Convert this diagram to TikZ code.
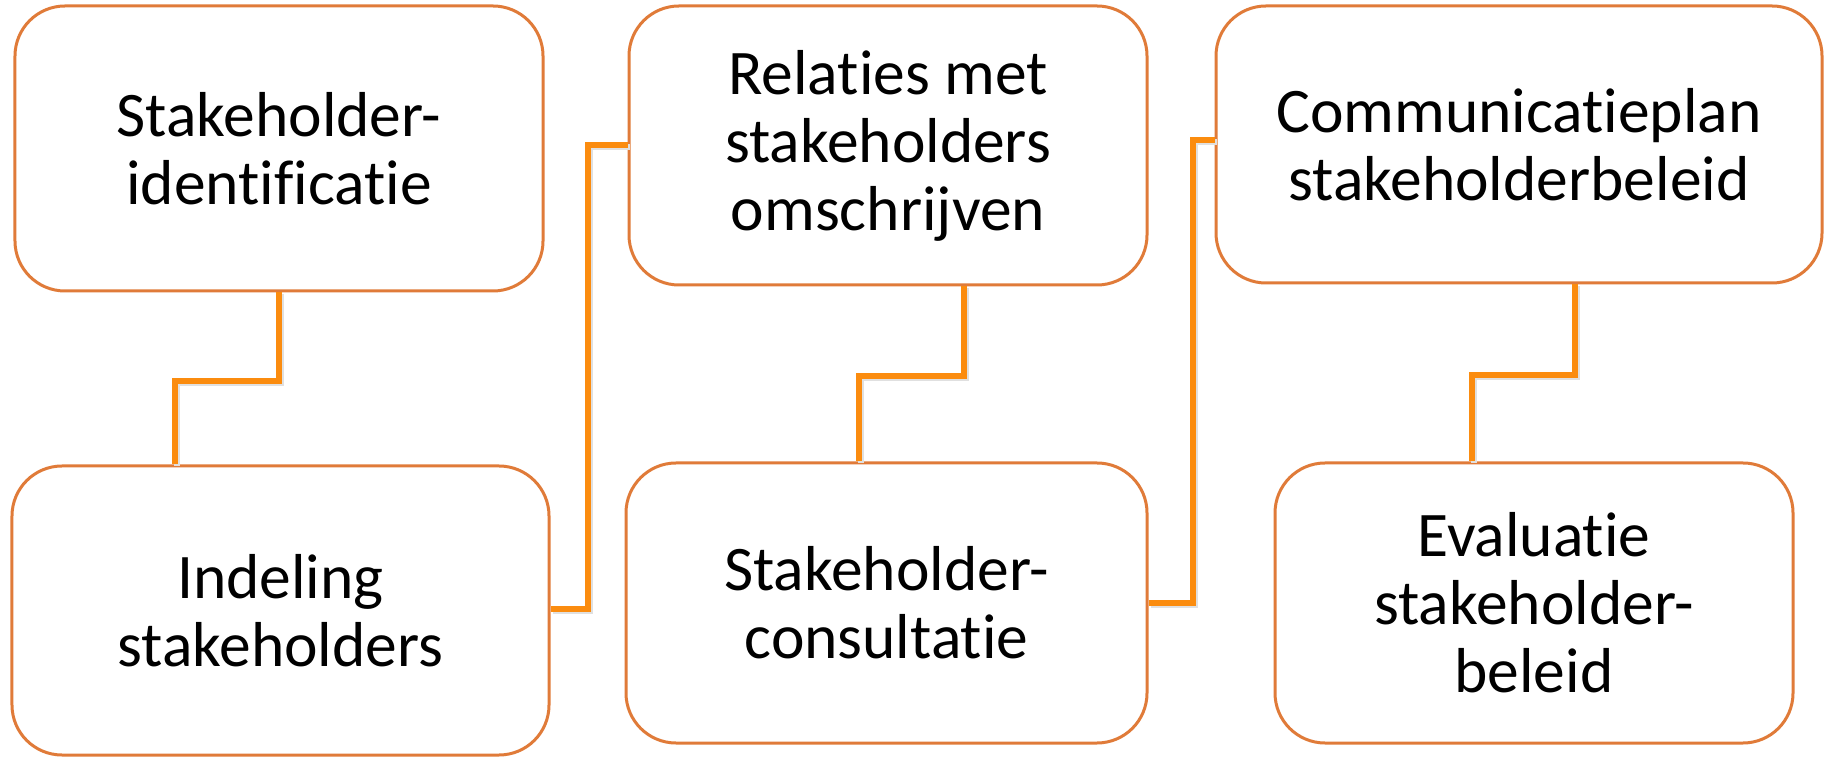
\documentclass[tikz,border=0pt]{standalone}
\usepackage{fontspec}
\setmainfont{Carlito}[Ligatures={NoCommon}]
\definecolor{boxline}{HTML}{E07B39}
\definecolor{connline}{HTML}{FB8C0F}
\begin{document}
\begin{tikzpicture}[x=0.4pt,y=-0.4pt,
  stepbox/.style={draw=boxline, line width=1.2pt, rounded corners=20pt, fill=white,
    rectangle, inner sep=0pt, align=center, font=\fontsize{25.4}{27.2}\selectfont},
  conn/.style={draw=connline, line width=2.3pt,
    preaction={draw=black!12, line width=2.3pt, transform canvas={shift={(0.8pt,-0.8pt)}}}}]
\useasboundingbox (0,0) rectangle (1825,757);
\node[stepbox, minimum width=211.2pt, minimum height=114pt] (b1) at (279,148.5) {Stakeholder-\\identificatie};
\node[stepbox, minimum width=214.8pt, minimum height=115.6pt] (b2) at (280.5,610.5) {Indeling\\stakeholders};
\node[stepbox, minimum width=207.2pt, minimum height=111.6pt] (b3) at (888,145.5) {Relaties met\\stakeholders\\omschrijven};
\node[stepbox, minimum width=208.4pt, minimum height=112pt] (b4) at (886.5,603) {Stakeholder-\\consultatie};
\node[stepbox, minimum width=242.4pt, minimum height=110.8pt] (b5) at (1519,144.5) {Communicatieplan\\stakeholderbeleid};
\node[stepbox, minimum width=207.2pt, minimum height=112pt] (b6) at (1534,603) {Evaluatie\\stakeholder-\\beleid};
% connectors
\coordinate (a1) at (279,0);
\coordinate (k1) at (175,381);
\draw[conn] (b1.south -| a1) |- (k1) -- (k1 |- b2.north);
\coordinate (a2) at (0,609);
\coordinate (k2) at (588,145);
\draw[conn] (b2.east |- a2) -| (k2) -- (k2 -| b3.west);
\coordinate (a3) at (964,0);
\coordinate (k3) at (859,376);
\draw[conn] (b3.south -| a3) |- (k3) -- (k3 |- b4.north);
\coordinate (a4) at (0,603);
\coordinate (k4) at (1193,140);
\draw[conn] (b4.east |- a4) -| (k4) -- (k4 -| b5.west);
\coordinate (a5) at (1575,0);
\coordinate (k5) at (1472,375);
\draw[conn] (b5.south -| a5) |- (k5) -- (k5 |- b6.north);
\end{tikzpicture}
\end{document}
